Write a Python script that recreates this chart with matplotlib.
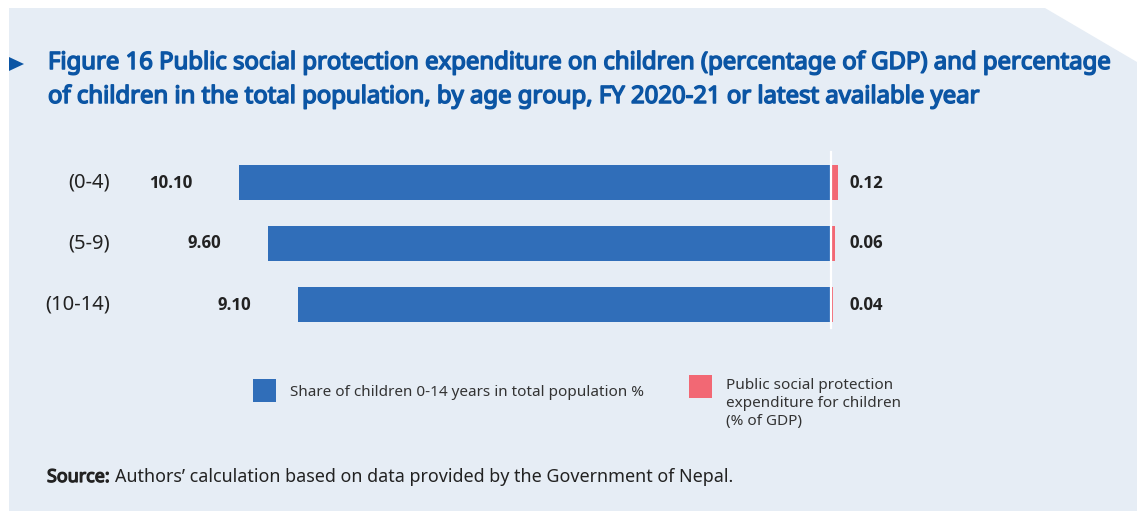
import matplotlib
matplotlib.use("Agg")
import matplotlib.pyplot as plt
from matplotlib.patches import Polygon, Rectangle
from matplotlib.transforms import blended_transform_factory
import matplotlib.patheffects as pe

plt.rcParams["font.family"] = ["Noto Sans", "DejaVu Sans"]
# static bold digits for the numeric labels
DIGIT_BOLD = ["Noto Sans Devanagari UI", "Noto Sans", "DejaVu Sans"]

# Data
age_groups = ["(0-4)", "(5-9)", "(10-14)"]
population_share = [10.10, 9.60, 9.10]     # % of total population
expenditure_gdp = [0.12, 0.06, 0.04]       # % of GDP

BLUE = "#306eb9"
RED = "#f26874"
PANEL = "#e6edf5"
TITLE_BLUE = "#0b55a4"
TEXT = "#222222"

W, H, DPI = 1137, 513, 100
fig = plt.figure(figsize=(W / DPI, H / DPI), dpi=DPI)
fig.patch.set_facecolor("white")


def fx(px):
    return px / W


def fy(py):
    return 1 - py / H


def heavy(color, lw=1.0):
    # thicken the regular face so it reads as bold
    return [pe.withStroke(linewidth=lw, foreground=color)]


# Background panel with the clipped top-right corner
panel = Polygon([(fx(9), fy(8)), (fx(1045), fy(8)), (fx(1137), fy(62)),
                 (fx(1137), fy(511)), (fx(9), fy(511))],
                closed=True, transform=fig.transFigure,
                facecolor=PANEL, edgecolor="none", zorder=-5)
fig.patches.append(panel)

# Title marker and title
marker = Polygon([(fx(9), fy(57)), (fx(24), fy(64)), (fx(9), fy(71))],
                 closed=True, transform=fig.transFigure,
                 facecolor=TITLE_BLUE, edgecolor="none")
fig.patches.append(marker)
title_kw = dict(fontsize=17.2, color=TITLE_BLUE, va="baseline", ha="left",
                path_effects=heavy(TITLE_BLUE, 1.1))
fig.text(fx(48), fy(69), "Figure 16 Public social protection expenditure on children "
         "(percentage of GDP) and percentage", **title_kw)
fig.text(fx(48), fy(103), "of children in the total population, by age group, "
         "FY 2020-21 or latest available year", **title_kw)

# Chart axes
ax_top, ax_bot = 140, 340
ax = fig.add_axes([0, fy(ax_bot), 1, (ax_bot - ax_top) / H])
ax.set_facecolor("none")
px_per_unit = 58.6
zero_px = 831
ax.set_xlim(-zero_px / px_per_unit, (W - zero_px) / px_per_unit)
ax.set_ylim(2 + 35.5 / 61, -42.5 / 61)
ax.axis("off")

y = list(range(len(age_groups)))
ax.barh(y, [-v for v in population_share], height=0.574, color=BLUE, zorder=2)
ax.barh(y, expenditure_gdp, height=0.574, color=RED, zorder=2)
ax.axvline(0, ymin=0.06, ymax=0.94, color="white", lw=1.6, zorder=3)

# Category labels on the left
blend = blended_transform_factory(fig.transFigure, ax.transData)
for yi, name in zip(y, age_groups):
    ax.text(fx(110), yi, name, transform=blend, ha="right", va="center",
            fontsize=14.5, color=TEXT)

# Value labels
for yi, v in zip(y, population_share):
    ax.annotate(f"{v:.2f}", xy=(-v, yi), xytext=(-47, 0), textcoords="offset pixels",
                ha="right", va="center", fontsize=12.5, fontweight="bold",
                family=DIGIT_BOLD, color=TEXT)
for yi, v in zip(y, expenditure_gdp):
    ax.annotate(f"{v:.2f}", xy=(0, yi), xytext=(19, 0), textcoords="offset pixels",
                ha="left", va="center", fontsize=12.5, fontweight="bold",
                family=DIGIT_BOLD, color=TEXT)

# Legend
fig.patches.append(Rectangle((fx(253), fy(402)), fx(23), 23 / H,
                             transform=fig.transFigure, facecolor=BLUE, edgecolor="none"))
fig.text(fx(290), fy(392), "Share of children 0-14 years in total population %",
         fontsize=11, color="#333333", ha="left", va="center")
fig.patches.append(Rectangle((fx(689), fy(398)), fx(23), 23 / H,
                             transform=fig.transFigure, facecolor=RED, edgecolor="none"))
fig.text(fx(726), fy(378), "Public social protection\nexpenditure for children\n(% of GDP)",
         fontsize=11, color="#333333", ha="left", va="top", linespacing=1.25)

# Source note
src = fig.text(fx(47), fy(482), "Source:", fontsize=12.9, color=TEXT,
               ha="left", va="baseline", path_effects=heavy(TEXT, 0.9))
fig.canvas.draw()
bb = src.get_window_extent()
fig.text(bb.x1 / W + fx(5), fy(482),
         "Authors\u2019 calculation based on data provided by the Government of Nepal.",
         fontsize=12.9, color=TEXT, ha="left", va="baseline")

fig.savefig("out.png", dpi=DPI)
